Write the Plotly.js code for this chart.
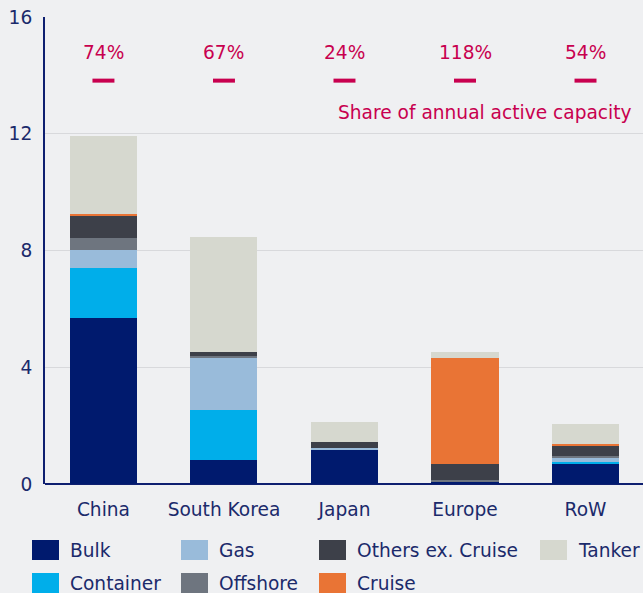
<!DOCTYPE html>
<html>
<head>
<meta charset="utf-8">
<script src="https://cdn.plot.ly/plotly-3.0.1.min.js"></script>
<style>
  html, body { margin: 0; padding: 0; background: #EFF0F2; }
  #chart { width: 643px; height: 593px; }
</style>
</head>
<body>
<div id="chart"></div>
<script>
// ---- Data ----
const categories = ['China', 'South Korea', 'Japan', 'Europe', 'RoW'];
const bulk           = [5.68, 0.82, 1.16, 0.07, 0.69];
const container      = [1.71, 1.71, 0.00, 0.00, 0.07];
const gas            = [0.62, 1.78, 0.07, 0.00, 0.14];
const offshore       = [0.41, 0.07, 0.00, 0.07, 0.07];
const othersExCruise = [0.75, 0.14, 0.21, 0.55, 0.34];
const cruise         = [0.07, 0.00, 0.00, 3.62, 0.07];
const tanker         = [2.70, 3.93, 0.68, 0.21, 0.68];
const shareLabels    = ['74%', '67%', '24%', '118%', '54%'];
const shareLevel     = 13.82;   // y level of the share markers
const shareCaption   = 'Share of annual active capacity';
const yTicks         = [0, 4, 8, 12, 16];

// ---- Styles ----
const FONT = 'DejaVu Sans, Verdana, sans-serif';
const FS = 18.6;
const NAVY_TEXT = '#1B2A6B';
const PINK = '#C8004F';
const series = [
  { name: 'Bulk',              values: bulk,           color: '#001A6E' },
  { name: 'Container',         values: container,      color: '#00AEEA' },
  { name: 'Gas',               values: gas,            color: '#99BBDA' },
  { name: 'Offshore',          values: offshore,       color: '#6E757F' },
  { name: 'Others ex. Cruise', values: othersExCruise, color: '#3D4049' },
  { name: 'Cruise',            values: cruise,         color: '#E97435' },
  { name: 'Tanker',            values: tanker,         color: '#D6D8CF' }
];

const traces = series.map(s => ({
  type: 'bar',
  name: s.name,
  x: categories,
  y: s.values,
  marker: { color: s.color, line: { width: 0 } },
  showlegend: false,
  hoverinfo: 'skip'
}));

traces.push({
  type: 'scatter',
  mode: 'markers',
  x: categories,
  y: categories.map(() => shareLevel),
  marker: { symbol: 'line-ew', size: 15.7, color: PINK, line: { color: PINK, width: 4 } },
  showlegend: false,
  hoverinfo: 'skip',
  cliponaxis: false
});

// plot area geometry (pixels) for paper conversion
const M = { l: 45, r: 0, t: 17, b: 109 };
const W = 643, H = 593;
const PW = W - M.l - M.r, PH = H - M.t - M.b;
const px = X => (X - M.l) / PW;
const py = Y => (H - M.b - Y) / PH;

const annotations = shareLabels.map((t, i) => ({
  x: categories[i], y: shareLevel, xref: 'x', yref: 'y',
  text: t, showarrow: false, yshift: 28,
  xanchor: 'center', yanchor: 'middle',
  font: { family: FONT, size: FS, color: PINK }
}));
annotations.push({
  x: px(634), y: 12.74, xref: 'paper', yref: 'y',
  text: shareCaption, showarrow: false,
  xanchor: 'right', yanchor: 'middle',
  font: { family: FONT, size: FS, color: PINK }
});

// custom legend (columns as in the reference)
const legendLayout = [
  { name: 'Bulk', col: 0, row: 0 },
  { name: 'Container', col: 0, row: 1 },
  { name: 'Gas', col: 1, row: 0 },
  { name: 'Offshore', col: 1, row: 1 },
  { name: 'Others ex. Cruise', col: 2, row: 0 },
  { name: 'Cruise', col: 2, row: 1 },
  { name: 'Tanker', col: 3, row: 0 }
];
const colX = [32, 181, 319, 540];
const rowY = [540, 573];
const shapes = [];
legendLayout.forEach(item => {
  const s = series.find(d => d.name === item.name);
  const x0 = colX[item.col], y0 = rowY[item.row];
  shapes.push({
    type: 'rect', xref: 'paper', yref: 'paper',
    x0: px(x0), x1: px(x0 + 27), y0: py(y0), y1: py(y0 + 20),
    fillcolor: s.color, line: { width: 0 }, layer: 'above'
  });
  annotations.push({
    x: px(x0 + 36), y: py(y0 + 10.5), xref: 'paper', yref: 'paper',
    text: s.name, showarrow: false, xanchor: 'left', yanchor: 'middle',
    font: { family: FONT, size: FS, color: NAVY_TEXT }
  });
});

const layout = {
  width: W, height: H,
  margin: M,
  paper_bgcolor: '#EFF0F2',
  plot_bgcolor: '#EFF0F2',
  barmode: 'stack',
  bargap: 0.444,
  showlegend: false,
  hovermode: false,
  font: { family: FONT, size: FS, color: NAVY_TEXT },
  xaxis: {
    type: 'category',
    range: [-0.485, 4.477],
    showgrid: false,
    showline: false,
    zeroline: false,
    ticks: '',
    ticklabelstandoff: 12,
    tickfont: { family: FONT, size: FS, color: NAVY_TEXT },
    fixedrange: true
  },
  yaxis: {
    range: [0, 16],
    tickvals: yTicks,
    ticktext: yTicks.map(String),
    showgrid: true,
    gridcolor: '#D8D9DC',
    gridwidth: 1,
    showline: true,
    linecolor: '#0E1F70',
    linewidth: 2,
    zeroline: true,
    zerolinecolor: '#0E1F70',
    zerolinewidth: 2,
    ticks: '',
    ticklabelstandoff: 7,
    tickfont: { family: FONT, size: FS, color: NAVY_TEXT },
    fixedrange: true
  },
  annotations: annotations,
  shapes: shapes
};

Plotly.newPlot('chart', traces, layout, { displayModeBar: false, staticPlot: true });
</script>
</body>
</html>
